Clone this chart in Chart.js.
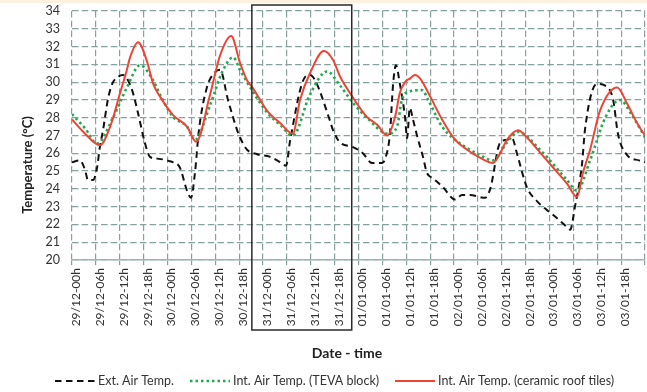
<!DOCTYPE html>
<html><head><meta charset="utf-8">
<script src="https://cdn.jsdelivr.net/npm/chart.js@4/dist/chart.umd.min.js"></script>
<style>
html,body{margin:0;padding:0;background:#fff;}
#wrap{position:relative;width:647px;height:392px;overflow:hidden;}
#topband{position:absolute;left:0;top:0;width:647px;height:3px;background:#fcf0de;}
canvas{display:block;}
</style></head><body>
<div id="wrap"><canvas id="c" width="647" height="392" style="width:647px;height:392px"></canvas><div id="topband"></div></div>
<script>
// Tick labels (every 6 h, hours since 29/12-00h)
const tickLabels = ['29/12-00h','29/12-06h','29/12-12h','29/12-18h','30/12-00h','30/12-06h','30/12-12h','30/12-18h',
  '31/12-00h','31/12-06h','31/12-12h','31/12-18h','01/01-00h','01/01-06h','01/01-12h','01/01-18h',
  '02/01-00h','02/01-06h','02/01-12h','02/01-18h','03/01-00h','03/01-06h','03/01-12h','03/01-18h'];

// Ext. Air Temp.
const extHours = [0,2.0,3.3,4.0,5.3,6.3,7.0,7.8,9.0,10.1,11.6,12.8,15.1,16.6,18.3,19.6,21.4,24.6,27.1,28.9,29.9,30.9,31.9,33.9,35.9,37.2,39.2,41.5,42.2,44.0,46.5,49.8,52.3,53.8,54.8,58.6,59.8,61.1,64.8,65.6,67.4,70.6,73.1,75.4,77.9,78.7,79.9,80.7,81.4,82.4,83.7,84.2,84.9,85.7,86.7,88.2,89.2,90.7,93.2,96.3,98.0,100.0,103.8,105.1,107.6,109.3,110.6,111.8,114.3,116.9,119.4,121.9,124.4,125.2,126.4,128.2,128.9,131.9,134.0,136.0,137.2,139.5,142.5,144];
const extTemp  = [25.5,25.6,25.05,24.5,24.5,25.2,26.35,27.3,29.0,29.9,30.3,30.4,29.55,28.25,26.6,25.8,25.7,25.55,25.2,23.9,23.5,24.9,27.3,29.7,30.55,30.7,29.0,27.3,26.9,26.2,25.95,25.8,25.5,25.3,26.7,30.3,30.4,30.1,27.85,27.3,26.6,26.35,26.0,25.45,25.45,25.7,27.1,29.9,30.95,29.9,28.0,26.85,28.55,27.9,27.0,25.8,24.9,24.6,24.1,23.4,23.65,23.65,23.5,24.0,26.6,26.75,26.85,26.0,24.1,23.3,22.8,22.35,21.85,21.7,23.0,25.45,27.3,29.9,29.8,29.0,27.1,25.9,25.6,25.5];

// Int. Air Temp. (TEVA block)
const tevaHours = [0,3.3,6.3,10.3,13.8,17.1,20.4,22.1,25.4,28.9,30.9,34.7,37.7,40.5,42.2,45.5,49.0,52.3,55.5,59.8,64.1,67.4,70.4,74.1,79.4,81.7,82.9,84.4,88.0,89.5,93.0,95.5,102.5,105.8,109.3,112.1,117.6,124.4,126.9,130.2,134.0,137.7,140.7,144];
const tevaTemp  = [28.2,27.4,26.55,28.0,29.7,30.95,30.1,29.3,28.05,27.5,26.75,28.7,30.55,31.4,30.7,29.45,28.3,27.6,27.0,29.3,30.6,29.8,28.9,28.0,27.1,27.5,29.0,29.45,29.55,29.0,27.5,26.9,25.9,25.6,26.6,27.2,26.2,24.5,23.9,25.6,28.0,29.0,28.15,26.9];

// Int. Air Temp. (ceramic roof tiles)
const tileHours = [0,3.3,7.0,9.6,12.1,13.8,14.6,16.6,18.8,20.4,22.1,25.4,28.9,31.2,34.7,37.2,40.0,42.2,44.0,45.5,49.0,52.3,55.5,57.3,59.8,63.3,65.6,67.4,70.4,74.1,76.7,79.2,81.2,82.4,83.7,84.9,86.2,87.5,90.0,93.0,96.3,99.3,102.5,105.8,107.6,109.3,112.1,114.3,117.6,120.9,124.4,126.9,128.4,130.2,132.7,137.0,139.5,142.0,144];
const tileTemp  = [27.9,27.1,26.45,27.5,29.4,30.7,31.4,32.25,31.2,29.9,29.2,28.15,27.5,26.65,29.3,31.5,32.6,31.1,30.1,29.65,28.4,27.7,27.1,29.0,30.5,31.75,31.25,30.3,29.2,28.05,27.6,27.0,28.05,29.4,30.0,30.2,30.4,30.2,29.2,27.9,26.75,26.2,25.75,25.45,26.0,26.75,27.3,26.9,26.05,25.2,24.3,23.55,24.9,26.2,28.4,29.7,28.8,27.7,27.0];

const seriesNames = ['Ext. Air Temp.','Int. Air Temp. (TEVA block)','Int. Air Temp. (ceramic roof tiles)'];
const yTitle = 'Temperature (°C)';
const xTitle = 'Date - time';

const pts = (hs, vs) => hs.map((h, i) => ({x: h, y: vs[i]}));

const gridColor = '#87a1a1';
const FONT = 'Lato, "Open Sans", sans-serif';

const decor = {
  id: 'decor',
  afterDraw(chart) {
    const ctx = chart.ctx;
    const xs = chart.scales.x, ca = chart.chartArea;
    // highlight box around 31/12
    ctx.save();
    ctx.strokeStyle = '#2a2a2a';
    ctx.lineWidth = 1.5;
    const bx1 = xs.getPixelForValue(45.2), bx2 = xs.getPixelForValue(70.3);
    ctx.strokeRect(bx1, ca.top - 6, bx2 - bx1, 325);
    ctx.restore();
    // axis titles
    ctx.save();
    ctx.fillStyle = '#222';
    ctx.font = 'bold 13px ' + FONT;
    ctx.textAlign = 'center';
    ctx.textBaseline = 'middle';
    ctx.translate(28, 165);
    ctx.rotate(-Math.PI / 2);
    ctx.fillText(yTitle, 0, 0);
    ctx.restore();
    ctx.save();
    ctx.fillStyle = '#222';
    ctx.font = 'bold 14px ' + FONT;
    ctx.textAlign = 'center';
    ctx.textBaseline = 'middle';
    ctx.fillText(xTitle, 347, 353);
    ctx.restore();
    // legend
    const starts = [55, 190, 395];
    const ly = 381;
    chart.data.datasets.forEach((ds, i) => {
      const x0 = starts[i];
      ctx.save();
      ctx.strokeStyle = ds.borderColor;
      ctx.lineWidth = ds.borderWidth;
      ctx.setLineDash(ds.borderDash || []);
      ctx.beginPath();
      ctx.moveTo(x0, ly);
      ctx.lineTo(x0 + 40, ly);
      ctx.stroke();
      ctx.setLineDash([]);
      ctx.fillStyle = '#333';
      ctx.font = '12.5px ' + FONT;
      ctx.textAlign = 'left';
      ctx.textBaseline = 'middle';
      ctx.fillText(ds.label, x0 + 43, ly);
      ctx.restore();
    });
  }
};

new Chart(document.getElementById('c'), {
  type: 'line',
  data: {
    datasets: [
      {label: seriesNames[0], data: pts(extHours, extTemp), borderColor: '#111111', borderWidth: 2, borderDash: [6.5, 4.5], pointRadius: 0, cubicInterpolationMode: 'monotone', fill: false, order: 3},
      {label: seriesNames[1], data: pts(tevaHours, tevaTemp), borderColor: '#22a84f', borderWidth: 2.6, borderDash: [2.5, 3], pointRadius: 0, cubicInterpolationMode: 'monotone', fill: false, order: 2},
      {label: seriesNames[2], data: pts(tileHours, tileTemp), borderColor: '#ec4536', borderWidth: 2, pointRadius: 0, cubicInterpolationMode: 'monotone', fill: false, order: 1}
    ]
  },
  options: {
    responsive: false,
    animation: false,
    devicePixelRatio: 1,
    layout: {padding: {top: 11, left: 0, right: 2, bottom: 0}},
    plugins: {legend: {display: false}, tooltip: {enabled: false}},
    scales: {
      x: {
        type: 'linear', min: 0, max: 144,
        afterFit: (s) => { s.height = 132; s.paddingLeft = 0; s.paddingRight = 0; },
        ticks: {
          stepSize: 6, autoSkip: false, maxRotation: 90, minRotation: 90,
          color: '#333', font: {family: FONT, size: 12}, padding: 3, labelOffset: 4,
          callback: (v, i) => tickLabels[i] || ''
        },
        grid: {color: gridColor, lineWidth: 1.2, tickLength: 5, drawTicks: true},
        border: {display: true, color: '#9db4b4', width: 1.6, dash: [6.5, 3.2]}
      },
      y: {
        min: 20, max: 34,
        afterFit: (s) => { s.width = 72; s.paddingTop = 0; s.paddingBottom = 0; },
        ticks: {stepSize: 1, autoSkip: false, color: '#333', font: {family: FONT, size: 12.5}, padding: 12},
        grid: {color: gridColor, lineWidth: 1.2, drawTicks: false},
        border: {display: false, dash: [6.5, 3.2]}
      }
    }
  },
  plugins: [decor]
});
</script>
</body></html>
